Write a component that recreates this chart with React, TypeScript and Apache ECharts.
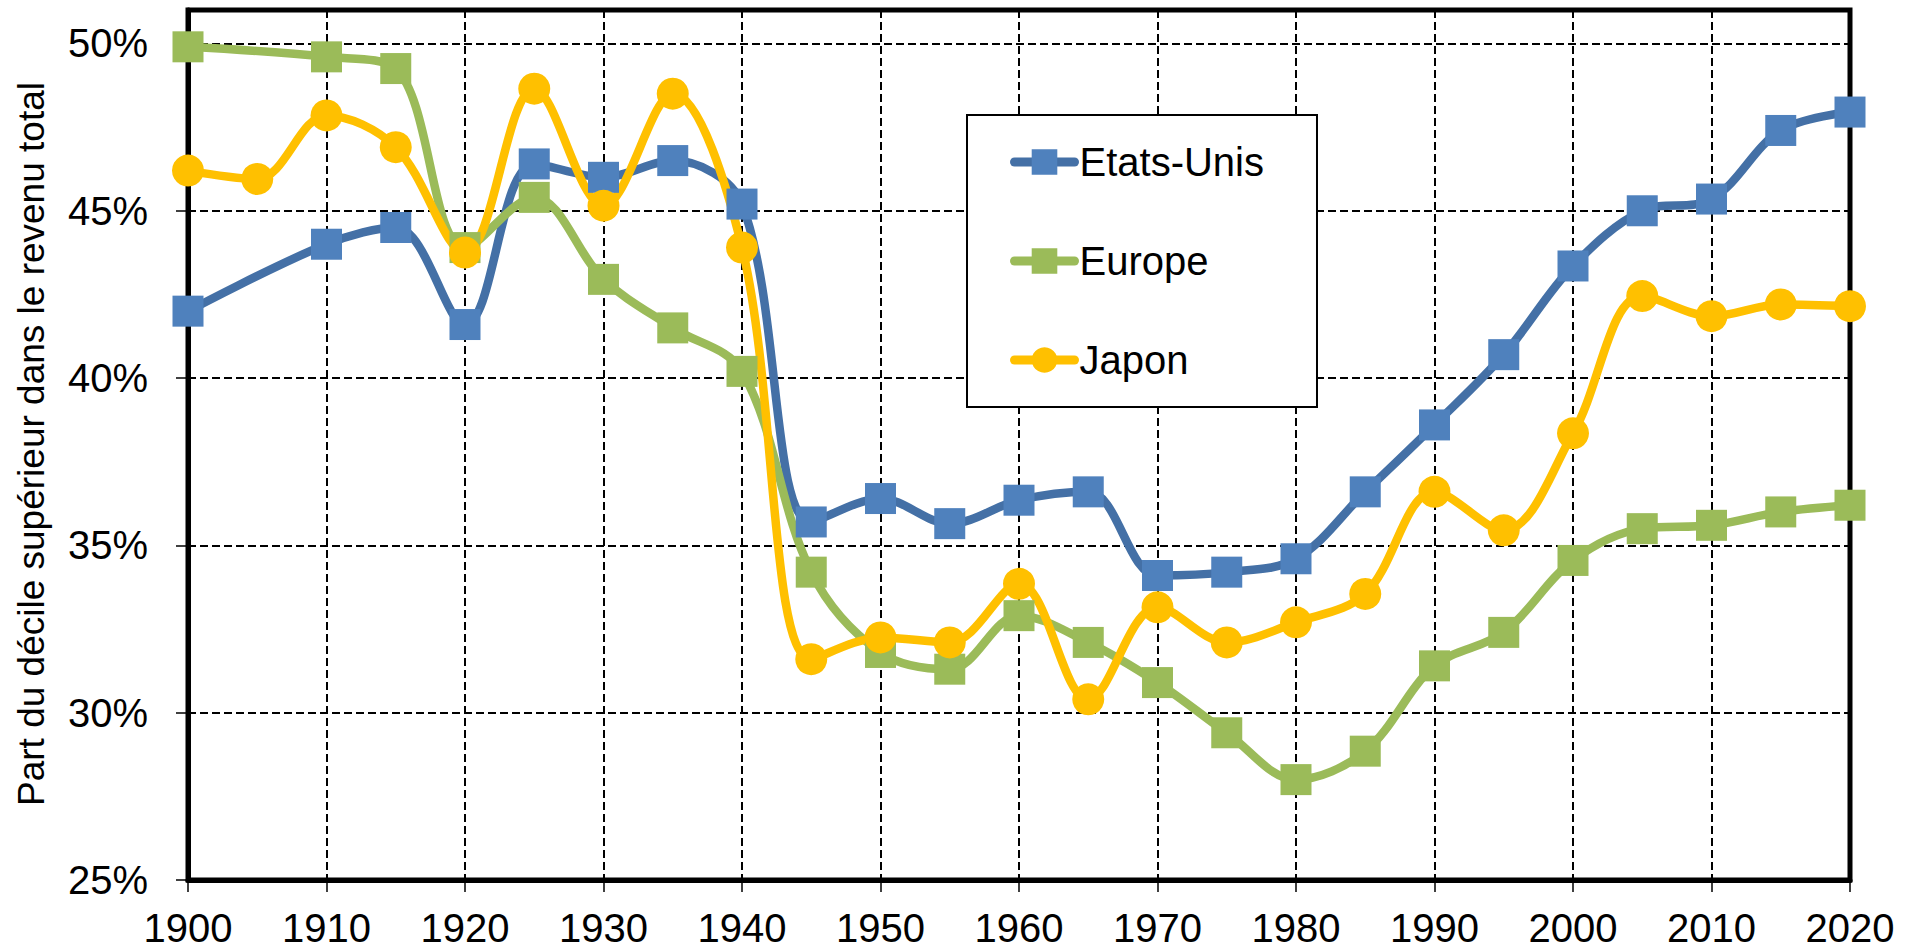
import React, { useEffect, useRef } from "react";
import * as echarts from "echarts";

const years = [1900, 1905, 1910, 1915, 1920, 1925, 1930, 1935, 1940, 1945, 1950, 1955, 1960, 1965, 1970, 1975, 1980, 1985, 1990, 1995, 2000, 2005, 2010, 2015, 2020];
const etatsUnis = [42.0, null, 44.0, 44.5, 41.6, 46.4, 46.0, 46.5, 45.2, 35.7, 36.4, 35.65, 36.35, 36.6, 34.1, 34.2, 34.6, 36.6, 38.6, 40.7, 43.35, 45.0, 45.35, 47.4, 47.95];
const europe = [49.9, null, 49.6, 49.25, 43.9, 45.4, 42.95, 41.5, 40.2, 34.2, 31.8, 31.3, 32.9, 32.1, 30.9, 29.4, 28.0, 28.85, 31.4, 32.4, 34.55, 35.5, 35.6, 36.0, 36.2];
const japon = [46.2, 45.95, 47.85, 46.9, 43.75, 48.65, 45.15, 48.5, 43.9, 31.6, 32.25, 32.1, 33.85, 30.4, 33.15, 32.1, 32.7, 33.55, 36.6, 35.45, 38.35, 42.45, 41.85, 42.2, 42.15];
const seriesNames = ["Etats-Unis", "Europe", "Japon"];
const yTitle = "Part du décile supérieur dans le revenu total";

const FONT = "'Liberation Sans', Arial, sans-serif";

function pairs(vals: (number | null)[]) {
  return years.map((y, i) => [y, vals[i]]);
}

export default function App() {
  const ref = useRef<HTMLDivElement>(null);
  useEffect(() => {
    if (!ref.current) return;
    const chart = echarts.init(ref.current, undefined, { renderer: "svg" });
    const mk = (name: string, vals: (number | null)[], lineColor: string, markColor: string, symbol: string, size: number) => ({
      name,
      type: "line",
      data: pairs(vals),
      smooth: 0.35,
      connectNulls: true,
      clip: false,
      symbol,
      symbolSize: size,
      showAllSymbol: true,
      lineStyle: { color: lineColor, width: 8.5, cap: "round", join: "round" },
      itemStyle: { color: markColor, borderWidth: 0 },
      emphasis: { disabled: true },
    });
    chart.setOption({
      animation: false,
      backgroundColor: "#fff",
      grid: {
        left: 188,
        right: 67,
        top: 10,
        bottom: 70,
        show: true,
        borderColor: "#000",
        borderWidth: 5,
        backgroundColor: "transparent",
      },
      legend: {
        orient: "vertical",
        left: 967,
        top: 115,
        data: seriesNames,
        itemWidth: 60,
        itemHeight: 32,
        itemGap: 59,
        padding: [27, 53, 27, 43],
        backgroundColor: "#fff",
        borderColor: "#000",
        borderWidth: 2,
        borderRadius: 0,
        lineStyle: { width: 9, cap: "round" },
        textStyle: { fontSize: 40, color: "#000", fontFamily: FONT },
      },
      xAxis: {
        type: "value",
        min: 1900,
        max: 2020,
        interval: 10,
        axisLine: { show: true, lineStyle: { color: "#000", width: 5 } },
        axisTick: { show: true, length: 12, lineStyle: { color: "#000", width: 1.5 } },
        axisLabel: {
          fontSize: 40,
          lineHeight: 40,
          color: "#000",
          fontFamily: FONT,
          margin: 28,
          formatter: (v: number) => String(v),
        },
        splitLine: { show: true, lineStyle: { color: "#000", width: 2, type: [8, 4] } },
      },
      yAxis: {
        type: "value",
        min: 25,
        max: 51,
        interval: 5,
        axisLine: { show: true, lineStyle: { color: "#000", width: 5 } },
        axisTick: { show: true, length: 12, lineStyle: { color: "#000", width: 1.5 } },
        axisLabel: {
          fontSize: 40,
          color: "#000",
          fontFamily: FONT,
          margin: 40,
          showMaxLabel: false,
          formatter: (v: number) => (v > 50.5 ? "" : v + "%"),
        },
        splitLine: { show: true, lineStyle: { color: "#000", width: 2, type: [8, 4] } },
      },
      graphic: [
        {
          type: "text",
          x: 31,
          y: 444,
          rotation: Math.PI / 2,
          style: {
            text: yTitle,
            fontSize: 37,
            fontFamily: FONT,
            fill: "#000",
            align: "center",
            verticalAlign: "middle",
          },
        },
      ],
      series: [
        mk(seriesNames[0], etatsUnis, "#4470A6", "#4F81BD", "rect", 31),
        mk(seriesNames[1], europe, "#9BBB59", "#9BBB59", "rect", 31),
        mk(seriesNames[2], japon, "#FFC000", "#FFC000", "circle", 32),
      ],
    });
    return () => chart.dispose();
  }, []);
  return (
    <div
      ref={ref}
      style={{ position: "fixed", left: 0, top: 0, width: 1917, height: 950, background: "#fff" }}
    />
  );
}
